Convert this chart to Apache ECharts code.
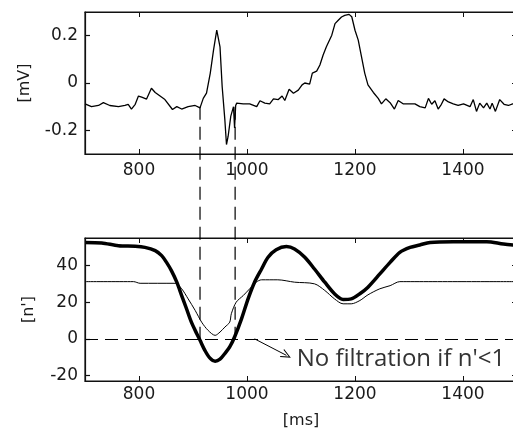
<!DOCTYPE html>
<html><head><meta charset="utf-8">
<script src="https://cdn.jsdelivr.net/npm/echarts@6/dist/echarts.min.js"></script>
<style>html,body{margin:0;padding:0;background:#fff;overflow:hidden}#c{width:513px;height:437px}</style>
</head><body><div id="c"></div>
<script>
// ---- data ----
const ecgTime = [700,712,725,734,746,762,774,780,786,793,799,805,814,823,830,839,848,862,870,879,891,904,913,919,925,932,938,944,947,950,954,959,962,965,970,975,977,979,981,993,1005,1018,1024,1033,1042,1049,1058,1065,1070,1078,1086,1095,1102,1107,1116,1121,1129,1135,1141,1147,1157,1163,1169,1175,1181,1189,1194,1200,1206,1212,1218,1224,1234,1243,1249,1257,1265,1273,1280,1289,1299,1311,1320,1330,1336,1342,1348,1354,1360,1365,1373,1382,1391,1401,1413,1419,1425,1431,1438,1444,1450,1454,1460,1468,1476,1484,1492,1500];
const ecgMv = [-0.088,-0.100,-0.095,-0.083,-0.095,-0.100,-0.095,-0.090,-0.110,-0.090,-0.055,-0.060,-0.068,-0.022,-0.040,-0.055,-0.070,-0.112,-0.100,-0.110,-0.100,-0.095,-0.105,-0.065,-0.043,0.042,0.139,0.223,0.215,0.153,-0.015,-0.156,-0.260,-0.226,-0.140,-0.100,-0.190,-0.095,-0.085,-0.088,-0.088,-0.100,-0.075,-0.085,-0.088,-0.067,-0.070,-0.055,-0.074,-0.026,-0.043,-0.030,-0.008,0.000,-0.005,0.042,0.050,0.076,0.118,0.153,0.202,0.251,0.265,0.279,0.286,0.290,0.280,0.223,0.181,0.111,0.042,-0.008,-0.040,-0.065,-0.088,-0.067,-0.083,-0.110,-0.074,-0.088,-0.088,-0.088,-0.100,-0.105,-0.065,-0.090,-0.075,-0.110,-0.090,-0.067,-0.080,-0.088,-0.095,-0.088,-0.100,-0.070,-0.120,-0.085,-0.105,-0.085,-0.110,-0.085,-0.120,-0.070,-0.090,-0.095,-0.088,-0.090];
const thickTime = [700,731,762,793,811,830,842,851,860,870,879,888,897,907,913,922,931,941,950,959,968,977,990,1002,1014,1027,1039,1054,1073,1088,1107,1125,1144,1162,1178,1193,1209,1224,1246,1265,1283,1302,1320,1339,1382,1413,1444,1475,1500];
const thickN = [52.6,52.3,50.8,50.5,49.9,48.1,45.4,41.7,37.2,30.9,23.6,16.4,9.1,2.8,-0.8,-6.3,-10.4,-12.2,-11.1,-8.0,-4.4,1.0,11.0,21.8,30.9,38.1,44.5,48.6,50.3,49.0,44.5,38.1,30.9,24.6,21.5,21.8,24.6,28.2,35.4,41.7,47.2,49.9,51.2,52.6,53.0,53.0,53.0,51.7,51.0];
const thinTime = [700,790,802,867,879,891,904,916,928,941,950,959,968,971,980,993,1005,1017,1027,1057,1088,1125,1144,1162,1178,1193,1209,1224,1246,1265,1283,1500];
const thinN = [31.2,31.2,30.3,30.3,27.3,21.8,15.5,9.1,4.6,1.9,3.7,6.4,9.1,13.7,20.0,23.6,27.3,30.9,32.2,32.2,30.9,30.0,26.4,21.8,19.1,19.1,20.9,24.0,27.3,29.0,31.2,31.2];
const xTicks = [800,1000,1200,1400];
const mvTicks = [-0.2,0,0.2];
const nTicks = [-20,0,20,40];
const xRange = [700,1500];
const mvRange = [-0.3,0.3];
const nRange = [-23,55];
const markerTimes = [913,978];
const markerTopMv = -0.1;
const markerBottomN = 0;
const arrowFrom = [1014,0];
const arrowTo = [1073,-9];
const notePos = [1092,-11];
const noteText = "No filtration if n'<1";

// ---- chart ----
const FONT = 'DejaVu Sans';
const INK = '#111';
const pair = (a,b) => a.map((v,i)=>[v,b[i]]);
const plain = v => String(v);
function lbl(show, ticks, margin){
  return {show:show, customValues:ticks, formatter:plain, fontFamily:FONT, fontSize:17, color:'#1a1a1a', margin:margin};
}
function xAx(grid, pos, labels, margin, extra){
  return Object.assign({type:'value', gridIndex:grid, position:pos, min:xRange[0], max:xRange[1],
    axisLine:{show:true, onZero:false, lineStyle:{color:INK, width:1.2}},
    axisTick:{show:true, inside:true, length:5, customValues:xTicks, lineStyle:{color:INK, width:1}},
    axisLabel:lbl(labels, xTicks, margin),
    splitLine:{show:false}}, extra||{});
}
function yAx(grid, pos, labels, range, ticks, extra){
  return Object.assign({type:'value', gridIndex:grid, position:pos, min:range[0], max:range[1],
    axisLine:{show:true, onZero:false, lineStyle:{color:INK, width:1.2}},
    axisTick:{show:true, inside:true, length:5, customValues:ticks, lineStyle:{color:INK, width:1.2}},
    axisLabel:lbl(labels, ticks, 7),
    splitLine:{show:false}}, extra||{});
}
const nameStyle = {fontFamily:FONT, fontSize:16, color:'#1a1a1a'};
const gridBase = {show:false, outerBoundsMode:'none', containLabel:false};
const option = {
  animation:false,
  backgroundColor:'#fff',
  grid:[Object.assign({left:85, top:12, width:432, height:142}, gridBase),
        Object.assign({left:85, top:238, width:432, height:143}, gridBase)],
  xAxis:[
    xAx(0,'bottom',true,8),
    xAx(0,'top',false,8),
    xAx(1,'bottom',true,5,{name:'[ms]', nameLocation:'middle', nameGap:32, nameTextStyle:nameStyle}),
    xAx(1,'top',false,5)
  ],
  yAxis:[
    yAx(0,'left',true,mvRange,mvTicks,{name:'[mV]', nameLocation:'middle', nameRotate:90, nameGap:52, nameTextStyle:nameStyle}),
    yAx(0,'right',false,mvRange,mvTicks),
    yAx(1,'left',true,nRange,nTicks,{name:"[n']", nameLocation:'middle', nameRotate:90, nameGap:48, nameTextStyle:nameStyle}),
    yAx(1,'right',false,nRange,nTicks)
  ],
  series:[
    {type:'line', xAxisIndex:0, yAxisIndex:0, data:pair(ecgTime,ecgMv), symbol:'none', lineStyle:{color:'#000', width:1.3}},
    {type:'line', xAxisIndex:2, yAxisIndex:2, data:pair(thickTime,thickN), symbol:'none', smooth:0.3, lineStyle:{color:'#000', width:3.5},
      markLine:{silent:true, symbol:['none','path://M5,0 L10,10 L8.8,10 L5,2.4 L1.2,10 L0,10 Z'], symbolSize:[9,10],
        label:{show:false}, lineStyle:{color:'#000', width:1, type:'solid'},
        data:[[{coord:arrowFrom},{coord:arrowTo}]]}},
    {type:'line', xAxisIndex:2, yAxisIndex:2, data:pair(thinTime,thinN), symbol:'none', smooth:0.3, lineStyle:{color:'#000', width:1},
      markLine:{silent:true, symbol:['none','none'], label:{show:false},
        lineStyle:{color:'#000', width:1.2, type:[13,7]}, data:[{yAxis:0}]}}
  ]
};
const chart = echarts.init(document.getElementById('c'), null, {renderer:'canvas'});
chart.setOption(option);
const gfx = markerTimes.map(t => {
  const p1 = chart.convertToPixel({seriesIndex:0}, [t, markerTopMv]);
  const p2 = chart.convertToPixel({seriesIndex:1}, [t, markerBottomN]);
  return {type:'line', silent:true, z:10, shape:{x1:p1[0], y1:p1[1], x2:p2[0], y2:p2[1]},
    style:{stroke:'#000', lineWidth:1.2, lineDash:[13,7]}};
});
// plot frames from the axes' own scales
[[0, mvRange],[1, nRange]].forEach(([si, yr]) => {
  const tl = chart.convertToPixel({seriesIndex:si}, [xRange[0], yr[1]]);
  const br = chart.convertToPixel({seriesIndex:si}, [xRange[1], yr[0]]);
  gfx.push({type:'rect', silent:true, z:9, shape:{x:tl[0], y:tl[1], width:br[0]-tl[0], height:br[1]-tl[1]},
    style:{fill:'none', stroke:INK, lineWidth:1.2}});
});
const np = chart.convertToPixel({seriesIndex:1}, notePos);
gfx.push({type:'text', silent:true, z:10, x:np[0], y:np[1],
  style:{text:noteText, fontFamily:'Open Sans', fontSize:24, fill:'#333', textAlign:'left', textVerticalAlign:'middle'}});
chart.setOption({graphic:gfx});
</script></body></html>
